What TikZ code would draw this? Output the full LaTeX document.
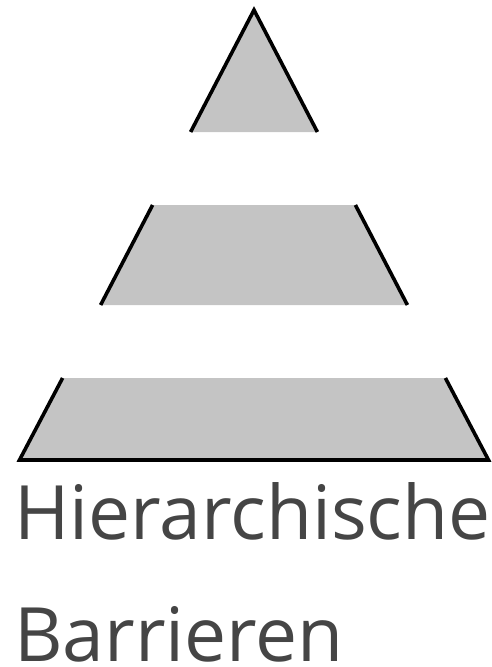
\documentclass[tikz,border=0pt]{standalone}
\usepackage{fontspec}
\setmainfont{Open Sans}
\usepackage{xcolor}
\definecolor{bandgray}{HTML}{C4C4C4}
\definecolor{textgray}{HTML}{454545}
\tikzset{
  band/.style={fill=bandgray},
  slope/.style={draw=black, line width=3.6pt, line join=miter},
  caption/.style={anchor=base west, inner sep=0pt, text=textgray, font=\fontsize{75}{122}\selectfont}
}
\begin{document}
\begin{tikzpicture}[x=1pt, y=-1pt]
  \useasboundingbox (0,0) rectangle (492,667);
  % top band
  \fill[band] (190.6,132) -- (254,10) -- (317.4,132) -- cycle;
  \draw[slope] (190.6,132) -- (254,10) -- (317.4,132);
  % middle band
  \fill[band] (152.6,205) -- (355.4,205) -- (407.4,305) -- (100.6,305) -- cycle;
  \draw[slope] (152.6,205) -- (100.6,305);
  \draw[slope] (355.4,205) -- (407.4,305);
  % bottom band
  \fill[band] (62.6,378) -- (445.4,378) -- (488.5,460) -- (19.5,460) -- cycle;
  \draw[slope] (62.6,378) -- (19.5,460) -- (488.5,460) -- (445.4,378);
  % caption
  \node[caption] (line1) at (14,539) {Hierarchische};
  \node[caption] (line2) at (14,661) {Barrieren};
\end{tikzpicture}
\end{document}
